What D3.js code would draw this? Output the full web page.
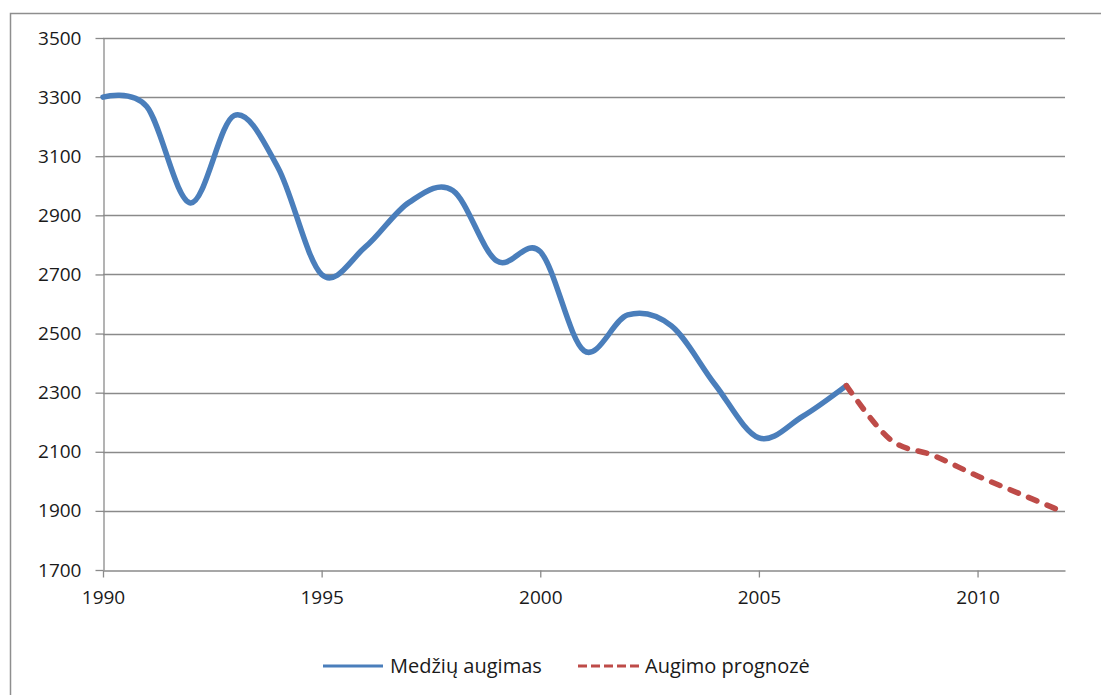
<!DOCTYPE html>
<html>
<head>
<meta charset="utf-8">
<script src="https://cdn.jsdelivr.net/npm/d3@7"></script>
<style>
html,body{margin:0;padding:0;background:#fff;}
svg{display:block;}
text{font-family:"Open Sans",sans-serif;fill:#1a1a1a;}
</style>
</head>
<body>
<svg id="chart" width="1101" height="695"></svg>
<script>
const years = [1990,1991,1992,1993,1994,1995,1996,1997,1998,1999,2000,2001,2002,2003,2004,2005,2006,2007];
const growth = [3300,3268,2942,3238,3062,2700,2793,2944,2984,2746,2777,2442,2563,2526,2327,2147,2220,2324];
const forecastYears = [2007,2008,2009,2010,2011,2012];
const forecast = [2324,2142,2087,2018,1956,1894];
const yTicks = [1700,1900,2100,2300,2500,2700,2900,3100,3300,3500];
const xTicks = [1990,1995,2000,2005,2010];
const seriesNames = ["Medžių augimas","Augimo prognozė"];

(function(){
const svg = d3.select("#chart");
const mL = 103, mR = 1065, mT = 38, mB = 570;

// outer chart frame
svg.append("rect").attr("x",10.5).attr("y",13.5).attr("width",1200).attr("height",800)
  .attr("fill","none").attr("stroke","#8e8e8e").attr("stroke-width",1.5);

const x = d3.scaleLinear().domain([1990,2012]).range([mL,mR]);
const y = d3.scaleLinear().domain([1700,3500]).range([mB,mT]);

// gridlines
svg.append("g").selectAll("line").data(yTicks.filter(d=>d>1700)).join("line")
  .attr("x1",mL).attr("x2",mR)
  .attr("y1",d=>Math.round(y(d))+0.5).attr("y2",d=>Math.round(y(d))+0.5)
  .attr("stroke","#8a8a8a").attr("stroke-width",1.3);

// y axis
const yAxis = svg.append("g").attr("transform",`translate(${mL+0.5},0)`)
  .call(d3.axisLeft(y).tickValues(yTicks).tickSizeInner(8).tickSizeOuter(0).tickPadding(14).tickFormat(d3.format("d")));
yAxis.select(".domain").attr("stroke","#8a8a8a").attr("stroke-width",1.3);
yAxis.selectAll(".tick line").attr("stroke","#8a8a8a").attr("stroke-width",1.3);
yAxis.selectAll(".tick text").style("font-size","19px").style("font-family","'Open Sans',sans-serif").attr("fill","#1a1a1a");

// x axis
const xAxis = svg.append("g").attr("transform",`translate(0,${mB+0.5})`)
  .call(d3.axisBottom(x).tickValues(xTicks).tickSizeInner(7).tickSizeOuter(0).tickPadding(13).tickFormat(d3.format("d")));
xAxis.select(".domain").attr("stroke","#8a8a8a").attr("stroke-width",1.3);
xAxis.selectAll(".tick line").attr("stroke","#8a8a8a").attr("stroke-width",1.3);
xAxis.selectAll(".tick text").style("font-size","19px").style("font-family","'Open Sans',sans-serif").attr("fill","#1a1a1a");

const line = d3.line().x(d=>x(d[0])).y(d=>y(d[1])).curve(d3.curveCardinal.tension(0));

svg.append("path").datum(years.map((yr,i)=>[yr,growth[i]]))
  .attr("d",line).attr("fill","none").attr("stroke","#4a7ebb")
  .attr("stroke-width",5.5).attr("stroke-linejoin","round").attr("stroke-linecap","round");

svg.append("path").datum(forecastYears.map((yr,i)=>[yr,forecast[i]]))
  .attr("d",line).attr("fill","none").attr("stroke","#be4b48")
  .attr("stroke-width",5.5).attr("stroke-dasharray","9,11").attr("stroke-linecap","round");

// legend
const lg = svg.append("g");
lg.append("line").attr("x1",323).attr("x2",383).attr("y1",666).attr("y2",666)
  .attr("stroke","#4a7ebb").attr("stroke-width",3);
lg.append("text").attr("x",390).attr("y",673).style("font-size","20px").text(seriesNames[0]);
lg.append("line").attr("x1",578).attr("x2",640).attr("y1",666).attr("y2",666)
  .attr("stroke","#be4b48").attr("stroke-width",3).attr("stroke-dasharray","9,4");
lg.append("text").attr("x",645).attr("y",673).style("font-size","20px").text(seriesNames[1]);
})();
</script>
</body>
</html>
